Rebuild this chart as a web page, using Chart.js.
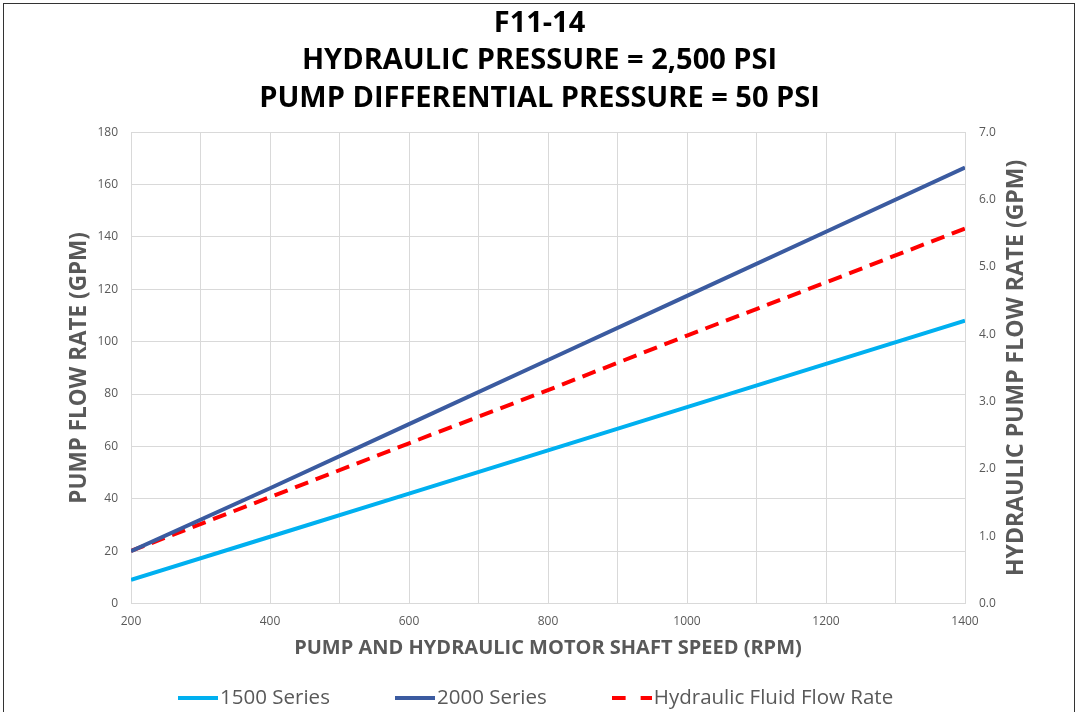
<!DOCTYPE html>
<html>
<head>
<meta charset="utf-8">
<script src="https://cdn.jsdelivr.net/npm/chart.js@4"></script>
<style>
  html, body { margin: 0; padding: 0; background: #fff; overflow: hidden; }
  #wrap { position: relative; width: 1079px; height: 712px; }
  #frame { position: absolute; left: 3px; top: 3px; width: 1070px; height: 730px; border: 1px solid #333; pointer-events: none; }
</style>
</head>
<body>
<div id="wrap">
  <canvas id="myChart" width="1079" height="712"></canvas>
  <div id="frame"></div>
</div>
<script>
// valeurs
var rpm = [200, 400, 600, 800, 1000, 1200, 1400];
var series1500 = [9, 25.5, 42, 58.5, 75, 91.5, 108];
var series2000 = [20, 44, 68.5, 93, 117.5, 142, 166.5];
var hydraulicFlow = [0.78, 1.58, 2.38, 3.17, 3.98, 4.77, 5.57];

var titleLines = ['F11-14', 'HYDRAULIC PRESSURE = 2,500 PSI', 'PUMP DIFFERENTIAL PRESSURE = 50 PSI'];
var grey = '#595959';
var font = '"Open Sans", "Liberation Sans", sans-serif';
var gap = '\u2003\u2003\u2003 ';

function points(ys) {
  return rpm.map(function(x, i) { return {x: x, y: ys[i]}; });
}

// petit trait pour la légende (plein ou pointillé)
function legendLine(color, dashed) {
  var c = document.createElement('canvas');
  c.width = 40;
  c.height = 4;
  var g = c.getContext('2d');
  g.fillStyle = color;
  if (dashed) {
    g.fillRect(0, 0, 14, 4);
    g.fillRect(29, 0, 11, 4);
  } else {
    g.fillRect(0, 0, 40, 4);
  }
  return c;
}

// titre de l'axe droit (lu de bas en haut)
var rightTitle = {
  id: 'rightTitle',
  afterDraw: function(chart) {
    var ctx = chart.ctx, a = chart.chartArea;
    ctx.save();
    ctx.translate(1016, (a.top + a.bottom) / 2);
    ctx.rotate(-Math.PI / 2);
    ctx.textAlign = 'center';
    ctx.textBaseline = 'middle';
    ctx.fillStyle = grey;
    ctx.font = 'bold 23px ' + font;
    ctx.fillText('HYDRAULIC PUMP FLOW RATE (GPM)', 0, 0);
    ctx.restore();
  }
};

var ctx = document.getElementById('myChart').getContext('2d');
var chart = new Chart(ctx, {
  type: 'line',
  data: {
    datasets: [{
      label: '1500 Series' + gap,
      data: points(series1500),
      borderColor: '#00b0f0',
      backgroundColor: '#00b0f0',
      borderWidth: 4,
      pointStyle: legendLine('#00b0f0', false),
      yAxisID: 'y'
    },
    {
      label: '2000 Series' + gap,
      data: points(series2000),
      borderColor: '#3b5ba0',
      backgroundColor: '#3b5ba0',
      borderWidth: 4,
      pointStyle: legendLine('#3b5ba0', false),
      yAxisID: 'y'
    },
    {
      label: 'Hydraulic Fluid Flow Rate',
      data: points(hydraulicFlow),
      borderColor: '#ff0000',
      backgroundColor: '#ff0000',
      borderWidth: 4,
      borderDash: [14, 8],
      pointStyle: legendLine('#ff0000', true),
      yAxisID: 'y2'
    }]
  },
  options: {
    responsive: false,
    animation: false,
    layout: { padding: { top: 0, left: 0, right: 0, bottom: -6 } },
    elements: { point: { radius: 0 }, line: { tension: 0 } },
    plugins: {
      title: {
        display: true,
        text: titleLines,
        color: '#000',
        font: { family: font, size: 29, weight: 'bold', lineHeight: 1.29 },
        padding: { top: 5, bottom: 15 }
      },
      legend: {
        position: 'bottom',
        labels: {
          usePointStyle: true,
          pointStyleWidth: 24,
          color: grey,
          padding: 6,
          font: { family: font, size: 20.5 }
        }
      },
      tooltip: { enabled: false }
    },
    scales: {
      x: {
        type: 'linear',
        min: 200,
        max: 1400,
        grid: { color: '#d9d9d9', drawTicks: false },
        border: { color: '#d9d9d9' },
        ticks: {
          stepSize: 100,
          color: grey,
          padding: 11,
          font: { family: font, size: 12 },
          callback: function(v) { return v % 200 === 0 ? v : ''; }
        },
        title: {
          display: true,
          text: 'PUMP AND HYDRAULIC MOTOR SHAFT SPEED (RPM)',
          color: grey,
          font: { family: font, size: 20, weight: 'bold' },
          padding: { top: 0, bottom: 21 }
        },
        afterFit: function(s) { s.height = 78; }
      },
      y: {
        position: 'left',
        min: 0,
        max: 180,
        grid: { color: '#d9d9d9', drawTicks: false },
        border: { display: false },
        ticks: {
          stepSize: 20,
          color: grey,
          padding: 13,
          font: { family: font, size: 12 }
        },
        title: {
          display: true,
          text: 'PUMP FLOW RATE (GPM)',
          color: grey,
          font: { family: font, size: 22.5, weight: 'bold' },
          padding: { top: 66.5, bottom: 0 }
        },
        afterFit: function(s) { s.width = 131; }
      },
      y2: {
        position: 'right',
        min: 0,
        max: 7,
        grid: { display: false },
        border: { color: '#d9d9d9' },
        ticks: {
          stepSize: 1,
          color: grey,
          padding: 6,
          font: { family: font, size: 12 },
          callback: function(v) { return v.toFixed(1); }
        },
        afterFit: function(s) { s.width = 1079 - 965; }
      }
    }
  },
  plugins: [rightTitle]
});
</script>
</body>
</html>
